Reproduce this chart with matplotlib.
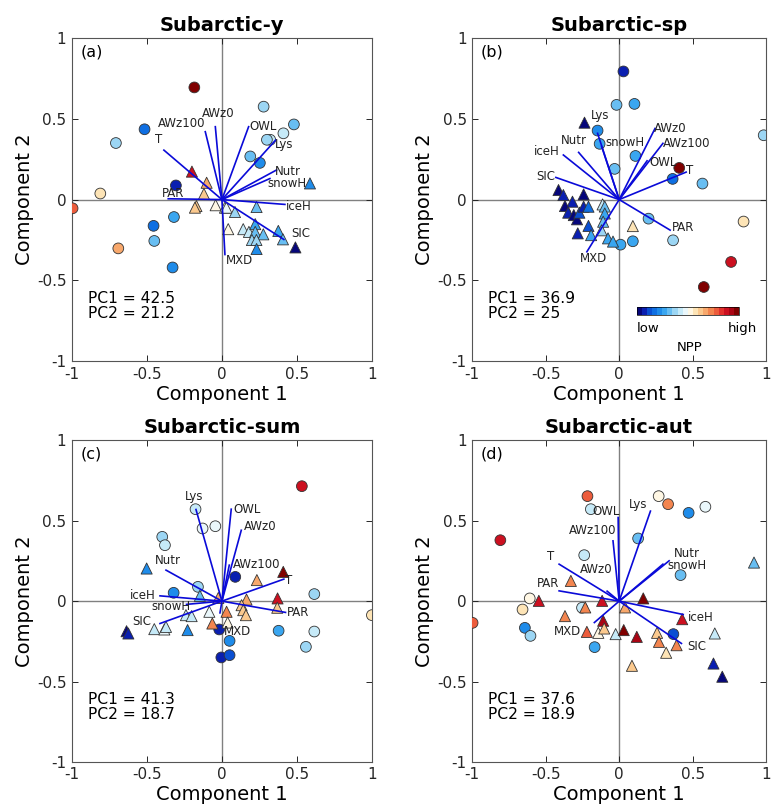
import numpy as np
import matplotlib
matplotlib.use('Agg')
import matplotlib.pyplot as plt
from matplotlib.colors import ListedColormap

# ---- data: PCA scores (circles / triangles), NPP colour value, loadings ----
titles = ['Subarctic-y', 'Subarctic-sp', 'Subarctic-sum', 'Subarctic-aut']
panel_tags = ['(a)', '(b)', '(c)', '(d)']
pc1 = ['42.5', '36.9', '41.3', '37.6']
pc2 = ['21.2', '25', '18.7', '18.9']

a_circ_x = [-0.184, 0.278, 0.48, 0.41, 0.322, 0.30, 0.189, 0.253, -0.516, -0.707, -0.307, -0.811, -0.996, -0.32, -0.456, -0.451, -0.691, -0.329]
a_circ_y = [0.694, 0.575, 0.465, 0.41, 0.37, 0.37, 0.267, 0.227, 0.435, 0.35, 0.0875, 0.0375, -0.054, -0.108, -0.1625, -0.256, -0.302, -0.42]
a_circ_c = [0.97, 0.36, 0.3, 0.4, 0.42, 0.38, 0.32, 0.22, 0.15, 0.38, 0.08, 0.55, 0.76, 0.28, 0.15, 0.32, 0.68, 0.2]
a_tri_x = [-0.2, -0.102, -0.12, -0.17, -0.18, -0.042, 0.02, 0.03, 0.087, 0.231, 0.042, 0.142, 0.18, 0.222, 0.222, 0.276, 0.2, 0.23, 0.231, 0.376, 0.407, 0.49, 0.587]
a_tri_y = [0.173, 0.104, 0.035, -0.04, -0.05, -0.035, -0.05, -0.05, -0.077, -0.046, -0.183, -0.183, -0.2, -0.152, -0.2, -0.215, -0.25, -0.25, -0.306, -0.194, -0.246, -0.296, 0.1]
a_tri_c = [0.88, 0.66, 0.6, 0.64, 0.62, 0.5, 0.48, 0.47, 0.38, 0.33, 0.52, 0.42, 0.42, 0.28, 0.3, 0.33, 0.36, 0.35, 0.22, 0.25, 0.3, 0.02, 0.2]
a_vars = ['T', 'AWz100', 'AWz0', 'OWL', 'Lys', 'Nutr', 'snowH', 'PAR', 'iceH', 'SIC', 'MXD']
a_load_x = [-0.387, -0.111, -0.044, 0.178, 0.358, 0.364, 0.32, -0.358, 0.42, 0.413, 0.02]
a_load_y = [0.306, 0.42, 0.451, 0.451, 0.368, 0.183, 0.13, 0.005, -0.03, -0.247, -0.34]

b_circ_x = [0.029, -0.018, 0.104, -0.147, -0.133, 0.111, -0.031, 0.409, 0.364, 0.567, 0.984, 0.847, 0.2, 0.367, 0.093, 0.009, 0.762, 0.576]
b_circ_y = [0.793, 0.586, 0.592, 0.427, 0.345, 0.27, 0.19, 0.196, 0.128, 0.099, 0.398, -0.136, -0.118, -0.252, -0.258, -0.279, -0.386, -0.541]
b_circ_c = [0.08, 0.3, 0.25, 0.2, 0.26, 0.25, 0.3, 0.97, 0.18, 0.33, 0.36, 0.55, 0.3, 0.36, 0.27, 0.27, 0.86, 0.96]
b_tri_x = [-0.236, -0.413, -0.38, -0.242, -0.318, -0.369, -0.347, -0.309, -0.287, -0.271, -0.242, -0.209, -0.209, -0.282, -0.113, -0.098, -0.098, -0.109, -0.12, -0.191, -0.076, -0.042, 0.093]
b_tri_y = [0.476, 0.059, 0.028, 0.032, -0.013, -0.04, -0.081, -0.096, -0.122, -0.081, -0.044, -0.044, -0.163, -0.209, -0.03, -0.043, -0.086, -0.137, -0.19, -0.22, -0.24, -0.26, -0.164]
b_tri_c = [0.04, 0.03, 0.05, 0.04, 0.06, 0.04, 0.05, 0.03, 0.02, 0.1, 0.08, 0.18, 0.1, 0.06, 0.4, 0.34, 0.27, 0.3, 0.36, 0.28, 0.27, 0.26, 0.56]
b_vars = ['Lys', 'Nutr', 'snowH', 'iceH', 'SIC', 'AWz0', 'AWz100', 'OWL', 'T', 'PAR', 'MXD']
b_load_x = [-0.147, -0.276, -0.12, -0.38, -0.431, 0.244, 0.298, 0.19, 0.456, 0.347, -0.22]
b_load_y = [0.41, 0.292, 0.33, 0.276, 0.137, 0.44, 0.348, 0.24, 0.17, -0.189, -0.323]

c_circ_x = [0.533, -0.176, -0.129, -0.044, -0.398, -0.38, 0.089, -0.16, -0.322, 0.616, 1.0, -0.018, 0.051, -0.004, 0.051, 0.378, 0.616, 0.56]
c_circ_y = [0.715, 0.572, 0.452, 0.466, 0.4, 0.348, 0.151, 0.089, 0.052, 0.044, -0.087, -0.176, -0.247, -0.35, -0.336, -0.184, -0.189, -0.284]
c_circ_c = [0.88, 0.4, 0.46, 0.45, 0.36, 0.44, 0.05, 0.35, 0.2, 0.36, 0.56, 0.06, 0.2, 0.05, 0.1, 0.28, 0.44, 0.38]
c_tri_x = [-0.502, -0.147, -0.024, 0.233, 0.409, 0.164, 0.371, 0.369, 0.131, 0.142, 0.16, 0.031, -0.084, -0.24, -0.202, -0.064, 0.038, -0.451, -0.384, -0.373, -0.229, -0.636, -0.624]
c_tri_y = [0.203, 0.033, 0.02, 0.131, 0.182, 0.01, 0.017, -0.041, -0.025, -0.056, -0.087, -0.066, -0.066, -0.087, -0.093, -0.139, -0.133, -0.174, -0.176, -0.16, -0.18, -0.187, -0.201]
c_tri_c = [0.24, 0.32, 0.66, 0.66, 0.97, 0.66, 0.88, 0.64, 0.62, 0.63, 0.64, 0.7, 0.48, 0.42, 0.44, 0.72, 0.54, 0.4, 0.45, 0.42, 0.24, 0.03, 0.06]
c_vars = ['Lys', 'OWL', 'AWz0', 'AWz100', 'T', 'PAR', 'MXD', 'Nutr', 'iceH', 'snowH', 'SIC']
c_load_x = [-0.173, 0.062, 0.129, 0.049, 0.413, 0.424, -0.013, -0.373, -0.413, -0.236, -0.413]
c_load_y = [0.57, 0.572, 0.441, 0.224, 0.137, -0.07, -0.073, 0.193, 0.033, -0.02, -0.139]

d_circ_x = [-0.216, -0.193, 0.269, 0.333, 0.473, 0.587, -0.809, 0.129, -0.238, 0.418, -0.609, -0.658, -0.253, -0.998, -0.642, -0.604, -0.167, 0.369]
d_circ_y = [0.653, 0.572, 0.653, 0.603, 0.549, 0.587, 0.379, 0.39, 0.286, 0.162, 0.017, -0.052, -0.041, -0.135, -0.166, -0.216, -0.286, -0.205]
d_circ_c = [0.76, 0.44, 0.54, 0.7, 0.22, 0.45, 0.88, 0.3, 0.4, 0.32, 0.53, 0.56, 0.44, 0.76, 0.2, 0.38, 0.25, 0.14]
d_tri_x = [0.918, -0.329, -0.547, -0.116, 0.164, -0.231, 0.04, -0.369, -0.109, 0.429, -0.22, -0.142, -0.102, -0.024, 0.031, 0.12, 0.258, 0.271, 0.391, 0.32, 0.087, 0.651, 0.642, 0.702]
d_tri_y = [0.24, 0.126, 0.002, 0.002, 0.017, -0.039, -0.039, -0.093, -0.122, -0.112, -0.191, -0.197, -0.17, -0.205, -0.18, -0.222, -0.197, -0.253, -0.274, -0.321, -0.402, -0.201, -0.388, -0.47]
d_tri_c = [0.32, 0.74, 0.88, 0.88, 0.96, 0.74, 0.66, 0.74, 0.9, 0.88, 0.75, 0.54, 0.64, 0.44, 0.95, 0.9, 0.6, 0.74, 0.74, 0.57, 0.64, 0.42, 0.05, 0.03]
d_vars = ['OWL', 'Lys', 'AWz100', 'AWz0', 'T', 'PAR', 'Nutr', 'snowH', 'iceH', 'SIC', 'MXD']
d_load_x = [-0.007, 0.213, -0.042, -0.082, -0.409, -0.409, 0.34, 0.298, 0.436, 0.424, -0.169]
d_load_y = [0.52, 0.56, 0.375, 0.062, 0.23, 0.064, 0.251, 0.23, -0.083, -0.263, -0.133]

# ---- layout: where each loading label sits ----
a_lab_pos = [(-0.424, 0.372), (-0.269, 0.471), (-0.024, 0.533), (0.271, 0.455), (0.413, 0.341), (0.442, 0.172),
             (0.431, 0.1), (-0.329, 0.038), (0.509, -0.04), (0.524, -0.21), (0.116, -0.377)]
b_lab_pos = [(-0.129, 0.519), (-0.309, 0.368), (0.04, 0.352), (-0.491, 0.3), (-0.502, 0.141), (0.347, 0.44),
             (0.458, 0.344), (0.302, 0.228), (0.48, 0.178), (0.436, -0.172), (-0.175, -0.366)]
c_lab_pos = [(-0.187, 0.649), (0.169, 0.57), (0.253, 0.466), (0.231, 0.228), (0.442, 0.131), (0.509, -0.07),
             (0.102, -0.187), (-0.358, 0.251), (-0.529, 0.037), (-0.34, -0.031), (-0.533, -0.124)]
d_lab_pos = [(-0.087, 0.56), (0.129, 0.603), (-0.182, 0.441), (-0.153, 0.197), (-0.469, 0.28), (-0.487, 0.11),
             (0.462, 0.296), (0.462, 0.224), (0.558, -0.104), (0.531, -0.28), (-0.353, -0.187)]

panels = [
    (a_circ_x, a_circ_y, a_circ_c, a_tri_x, a_tri_y, a_tri_c, a_vars, a_load_x, a_load_y, a_lab_pos),
    (b_circ_x, b_circ_y, b_circ_c, b_tri_x, b_tri_y, b_tri_c, b_vars, b_load_x, b_load_y, b_lab_pos),
    (c_circ_x, c_circ_y, c_circ_c, c_tri_x, c_tri_y, c_tri_c, c_vars, c_load_x, c_load_y, c_lab_pos),
    (d_circ_x, d_circ_y, d_circ_c, d_tri_x, d_tri_y, d_tri_c, d_vars, d_load_x, d_load_y, d_lab_pos),
]

# discrete blue-white-red map
npp_cmap = ListedColormap([
    '#06067a', '#0a1fb0', '#0a4fd2', '#0f6fe2', '#1f8cea', '#3aa6f0', '#68bef2', '#9cd6f4', '#c6eaf8', '#eaf7fb',
    '#fff7e4', '#fde4b6', '#fbc98e', '#f8a86c', '#f3854f', '#ec5c3c', '#e2302c', '#cc1020', '#aa0514', '#800000'])

plt.rcParams['font.family'] = 'DejaVu Sans'
fig = plt.figure(figsize=(7.73, 8.08), dpi=100)

ax_rects = [
    [0.0931, 0.553, 0.388, 0.400],
    [0.611, 0.553, 0.380, 0.400],
    [0.0931, 0.057, 0.388, 0.398],
    [0.611, 0.057, 0.380, 0.398],
]
axcol = '#262626'

for i, (cx, cy, cc, tx, ty, tc, names, lx, ly, lpos) in enumerate(panels):
    ax = fig.add_axes(ax_rects[i])
    ax.set_xlim(-1, 1)
    ax.set_ylim(-1, 1)
    ax.axhline(0, color='#808080', lw=1.0, zorder=1)
    ax.axvline(0, color='#808080', lw=1.0, zorder=1)

    ax.scatter(cx, cy, c=cc, cmap=npp_cmap, vmin=0, vmax=1, marker='o', s=60,
               edgecolors='#333333', linewidths=0.6, zorder=3)
    ax.scatter(tx, ty, c=tc, cmap=npp_cmap, vmin=0, vmax=1, marker='^', s=64,
               edgecolors='#333333', linewidths=0.6, zorder=3)

    for name, ex, ey, (px, py) in zip(names, lx, ly, lpos):
        ax.plot([0, ex], [0, ey], color='#0a0ad8', lw=1.2, zorder=4)
        ax.text(px, py, name, fontsize=8.5, ha='center', va='center', color='#222222', zorder=5)

    ax.text(-0.94, 0.915, panel_tags[i], fontsize=11.5, ha='left', va='center')
    ax.text(-0.89, -0.61, 'PC1 = ' + pc1[i], fontsize=11.2, ha='left', va='center')
    ax.text(-0.89, -0.708, 'PC2 = ' + pc2[i], fontsize=11.2, ha='left', va='center')

    ax.set_title(titles[i], fontsize=14, fontweight='bold', pad=5)
    ax.set_xlabel('Component 1', fontsize=14, labelpad=2)
    ax.set_ylabel('Component 2', fontsize=14, labelpad=2)
    ticks = [-1, -0.5, 0, 0.5, 1]
    ax.set_xticks(ticks)
    ax.set_yticks(ticks)
    ax.set_xticklabels(['-1', '-0.5', '0', '0.5', '1'])
    ax.set_yticklabels(['-1', '-0.5', '0', '0.5', '1'])
    ax.tick_params(direction='in', top=True, right=True, length=4, width=0.7,
                   labelsize=11, colors=axcol, pad=4)
    for sp in ax.spines.values():
        sp.set_color('#555555')
        sp.set_linewidth(0.8)

    if i == 1:
        cax = ax.inset_axes([0.118, -0.715, 0.70, 0.05], transform=ax.transData)
        sm = plt.cm.ScalarMappable(cmap=npp_cmap, norm=plt.Normalize(0, 1))
        cb = fig.colorbar(sm, cax=cax, orientation='horizontal')
        cb.set_ticks([])
        cb.outline.set_linewidth(0.5)
        ax.text(0.12, -0.80, 'low', fontsize=9.5, ha='left', va='center')
        ax.text(0.94, -0.80, 'high', fontsize=9.5, ha='right', va='center')
        ax.text(0.478, -0.918, 'NPP', fontsize=9.5, ha='center', va='center')

fig.savefig('out.png', dpi=100)
